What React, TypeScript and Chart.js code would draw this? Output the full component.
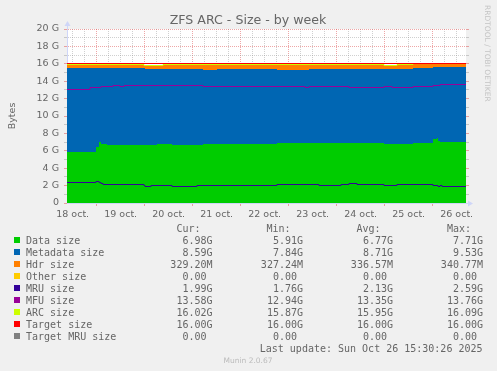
import React, { useEffect, useRef } from 'react';
import { Chart, registerables } from 'chart.js';

Chart.register(...registerables);

// ---- data (hours since 18 oct. 00:00) ----
const hours = [9.15, 20.5, 23.5, 25, 26, 27, 29, 32, 35.5, 37.5, 47.5, 48, 51, 54, 57, 61.5, 74, 77, 78, 84, 114, 128, 130, 135, 146, 150, 154, 167.5, 171.5, 174, 182, 192, 194, 194.5, 195.5, 196.5, 200, 208.65];

const dataSize = [5.91, 5.91, 5.91, 6.40, 7.00, 6.80, 6.76, 6.68, 6.68, 6.68, 6.68, 6.68, 6.68, 6.68, 6.76, 6.76, 6.72, 6.72, 6.76, 6.76, 6.78, 6.90, 6.90, 6.90, 6.90, 6.90, 6.90, 6.90, 6.79, 6.79, 6.79, 6.85, 7.30, 7.44, 7.10, 6.99, 6.99, 6.99];
const metadataSize = [9.53, 9.60, 9.60, 9.11, 8.51, 8.71, 8.75, 8.83, 8.83, 8.83, 8.83, 8.83, 8.72, 8.76, 8.68, 8.68, 8.72, 8.72, 8.53, 8.53, 8.66, 8.39, 8.39, 8.54, 8.54, 8.54, 8.54, 8.54, 8.65, 8.65, 8.65, 8.66, 8.28, 8.14, 8.48, 8.59, 8.59, 8.59];
const hdrSize = [0.48, 0.41, 0.41, 0.39, 0.39, 0.39, 0.39, 0.39, 0.39, 0.39, 0.39, 0.30, 0.41, 0.37, 0.37, 0.48, 0.48, 0.48, 0.63, 0.63, 0.48, 0.63, 0.63, 0.48, 0.48, 0.48, 0.48, 0.48, 0.34, 0.34, 0.48, 0.47, 0.45, 0.45, 0.45, 0.45, 0.45, 0.45];
const otherSize = [0, 0, 0, 0, 0, 0, 0, 0, 0, 0, 0, 0, 0, 0, 0, 0, 0, 0, 0, 0, 0, 0, 0, 0, 0, 0, 0, 0, 0, 0, 0, 0, 0, 0, 0, 0, 0, 0];
const mruSize = [2.41, 2.41, 2.41, 2.50, 2.30, 2.29, 2.18, 2.18, 2.18, 2.18, 2.18, 2.02, 1.95, 2.06, 2.06, 2.06, 1.95, 2.06, 2.06, 2.06, 2.06, 2.18, 2.18, 2.18, 2.06, 2.18, 2.29, 2.18, 2.06, 2.06, 2.18, 2.18, 2.05, 2.00, 1.95, 2.00, 1.95, 1.95];
const mfuSize = [13.06, 13.06, 13.24, 13.30, 13.30, 13.38, 13.40, 13.40, 13.50, 13.40, 13.52, 13.52, 13.52, 13.52, 13.52, 13.52, 13.52, 13.52, 13.40, 13.40, 13.40, 13.40, 13.28, 13.40, 13.40, 13.40, 13.28, 13.28, 13.35, 13.28, 13.28, 13.40, 13.50, 13.50, 13.55, 13.63, 13.63, 13.63];
const arcSize = [15.92, 15.92, 15.92, 15.90, 15.90, 15.90, 15.90, 15.90, 15.90, 15.90, 15.90, 15.81, 15.81, 15.81, 15.81, 15.92, 15.92, 15.92, 15.92, 15.92, 15.92, 15.92, 15.92, 15.92, 15.92, 15.92, 15.92, 15.92, 15.78, 15.78, 15.92, 15.98, 16.03, 16.03, 16.03, 16.03, 16.03, 16.03];
const constHours = [9.15, 208.65];
const targetSize = [16.0, 16.0];
const targetMruSize = [0, 0];

const dayLabels = ['18 oct.', '19 oct.', '20 oct.', '21 oct.', '22 oct.', '23 oct.', '24 oct.', '25 oct.', '26 oct.'];
const yLabels = ['0', '2 G', '4 G', '6 G', '8 G', '10 G', '12 G', '14 G', '16 G', '18 G', '20 G'];

const seriesNames = ['Data size', 'Metadata size', 'Hdr size', 'Other size', 'MRU size', 'MFU size', 'ARC size', 'Target size', 'Target MRU size'];
const seriesColors = ['#00CC00', '#0066B3', '#FF8000', '#FFCC00', '#330099', '#990099', '#CCFF00', '#FF0000', '#808080'];
const curVals = ['6.98G', '8.59G', '329.20M', '0.00', '1.99G', '13.58G', '16.02G', '16.00G', '0.00'];
const minVals = ['5.91G', '7.84G', '327.24M', '0.00', '1.76G', '12.94G', '15.87G', '16.00G', '0.00'];
const avgVals = ['6.77G', '8.71G', '336.57M', '0.00', '2.13G', '13.35G', '15.95G', '16.00G', '0.00'];
const maxVals = ['7.71G', '9.53G', '340.77M', '0.00', '2.59G', '13.76G', '16.09G', '16.00G', '0.00'];
const headers = ['Cur:', 'Min:', 'Avg:', 'Max:'];
const lastUpdate = 'Last update: Sun Oct 26 15:30:26 2025';
const titleText = 'ZFS ARC - Size - by week';
const yTitle = 'Bytes';
const watermark = 'RRDTOOL / TOBI OETIKER';
const version = 'Munin 2.0.67';

// ---- styles ----
const TEXT = '#666666';
const MINOR = 'rgba(143,143,143,0.42)';
const MAJOR = 'rgba(222,79,79,0.5)';
const AXIS = '#CFD6F8';
const SANS = '"DejaVu Sans", sans-serif';
const MONO = '"DejaVu Sans Mono", monospace';

const pts = (xs: number[], ys: number[]) => xs.map((x, i) => ({ x, y: ys[i] }));

// snap the scale-computed point positions to the pixel grid (as rrdtool does)
const snap = {
  id: 'snap',
  afterDatasetsUpdate(chart: any) {
    chart.data.datasets.forEach((ds: any, i: number) => {
      const meta = chart.getDatasetMeta(i);
      const isLine = ds.borderWidth > 0;
      meta.data.forEach((el: any) => {
        el.x = Math.round(el.x);
        el.y = isLine ? Math.floor(el.y) + 0.5 : Math.round(el.y);
      });
    });
  },
};

const extras = {
  id: 'extras',
  beforeDraw(chart: any) {
    const { ctx, chartArea: a } = chart;
    ctx.save();
    ctx.fillStyle = '#F0F0F0';
    ctx.fillRect(0, 0, chart.width, chart.height);
    ctx.fillStyle = '#FFFFFF';
    ctx.fillRect(a.left, a.top, a.right - a.left, a.bottom - a.top);
    ctx.restore();
  },
  afterDraw(chart: any) {
    const { ctx, chartArea: a } = chart;
    ctx.save();
    // axis extensions + arrows
    ctx.strokeStyle = AXIS;
    ctx.fillStyle = AXIS;
    ctx.lineWidth = 1;
    ctx.beginPath();
    ctx.moveTo(a.left + 0.5, a.top);
    ctx.lineTo(a.left + 0.5, a.top - 4);
    ctx.moveTo(a.right, a.bottom + 0.5);
    ctx.lineTo(a.right + 3, a.bottom + 0.5);
    ctx.stroke();
    ctx.beginPath();
    ctx.moveTo(a.left + 0.5, a.top - 8);
    ctx.lineTo(a.left - 2.5, a.top - 3);
    ctx.lineTo(a.left + 3.5, a.top - 3);
    ctx.closePath();
    ctx.fill();
    ctx.beginPath();
    ctx.moveTo(a.right + 7, a.bottom + 0.5);
    ctx.lineTo(a.right + 2, a.bottom - 2.5);
    ctx.lineTo(a.right + 2, a.bottom + 3.5);
    ctx.closePath();
    ctx.fill();

    // title
    ctx.fillStyle = TEXT;
    ctx.font = `12.6px ${SANS}`;
    ctx.textAlign = 'center';
    ctx.textBaseline = 'alphabetic';
    ctx.fillText(titleText, 248, 24);

    // y title
    ctx.save();
    ctx.font = `9.5px ${SANS}`;
    ctx.translate(15, (a.top + a.bottom) / 2);
    ctx.rotate(-Math.PI / 2);
    ctx.textAlign = 'center';
    ctx.fillText(yTitle, 0, 0);
    ctx.restore();

    // watermark
    ctx.save();
    ctx.fillStyle = '#C4C4C4';
    ctx.font = `7.5px ${SANS}`;
    ctx.translate(485, 5);
    ctx.rotate(Math.PI / 2);
    ctx.textAlign = 'left';
    ctx.fillText(watermark, 0, 0);
    ctx.restore();

    // legend table
    ctx.font = `10px ${MONO}`;
    ctx.fillStyle = TEXT;
    ctx.textAlign = 'left';
    const headerX = [176.5, 266.5, 356.5, 447];
    headers.forEach((h, i) => ctx.fillText(h, headerX[i], 231.5));
    const colRight = [212.5, 303, 393, 483];
    const cols = [curVals, minVals, avgVals, maxVals];
    seriesNames.forEach((name, i) => {
      const y = 243.5 + 12 * i;
      ctx.fillStyle = seriesColors[i];
      ctx.fillRect(14, y - 6.5, 6, 6);
      ctx.fillStyle = TEXT;
      ctx.textAlign = 'left';
      ctx.fillText(name, 26, y);
      ctx.textAlign = 'right';
      cols.forEach((arr, c) => {
        const s = arr[i];
        ctx.fillText(/[A-Za-z]$/.test(s) ? s : s + ' ', colRight[c], y);
      });
    });
    ctx.textAlign = 'right';
    ctx.fillText(lastUpdate, 482.5, 351.5);

    // version
    ctx.fillStyle = '#BBBBBB';
    ctx.font = `7.5px ${SANS}`;
    ctx.textAlign = 'center';
    ctx.fillText(version, 248, 362.5);
    ctx.restore();
  },
};

const xTicks: number[] = [];
for (let h = 12; h <= 204; h += 6) xTicks.push(h);

const area = (label: string, ys: number[], color: string, fill: any) => ({
  label, data: pts(hours, ys), stack: 'areas', fill,
  backgroundColor: color, borderColor: color, borderWidth: 0, pointRadius: 0, stepped: 'after', order: 10,
});

const line = (label: string, xs: number[], ys: number[], color: string, order: number) => ({
  label, data: pts(xs, ys), stack: label, fill: false,
  borderColor: color, backgroundColor: color, borderWidth: 1, pointRadius: 0, stepped: 'after', order,
});

export default function App() {
  const ref = useRef<HTMLCanvasElement>(null);
  useEffect(() => {
    const canvas = ref.current!;
    const chart = new Chart(canvas, {
      type: 'line',
      data: {
        datasets: [
          area('Data size', dataSize, seriesColors[0], 'origin'),
          area('Metadata size', metadataSize, seriesColors[1], '-1'),
          area('Hdr size', hdrSize, seriesColors[2], '-1'),
          area('Other size', otherSize, seriesColors[3], '-1'),
          line('MRU size', hours, mruSize, seriesColors[4], 5),
          line('MFU size', hours, mfuSize, seriesColors[5], 4),
          line('ARC size', hours, arcSize, seriesColors[6], 3),
          line('Target size', constHours, targetSize, seriesColors[7], 2),
          line('Target MRU size', constHours, targetMruSize, seriesColors[8], 1),
        ] as any,
      },
      options: {
        responsive: false, animation: false, events: [],
        layout: { padding: { left: 0, top: 29, right: 28, bottom: 148 } },
        plugins: { legend: { display: false }, tooltip: { enabled: false }, title: { display: false } },
        scales: {
          x: {
            type: 'linear', min: 9.15, max: 208.65, z: 1,
            afterBuildTicks: (s: any) => { s.ticks = xTicks.map((v) => ({ value: v })); },
            afterFit: (s: any) => { s.height = 20; s.paddingLeft = 0; s.paddingRight = 0; },
            ticks: {
              autoSkip: false, maxRotation: 0, minRotation: 0, padding: 3, color: TEXT,
              font: { family: SANS, size: 9.5 },
              callback: (v: any) => ((v - 12) % 24 === 0 ? dayLabels[(v - 12) / 24] : ''),
            },
            grid: {
              lineWidth: 1, tickLength: 3,
              color: (c: any) => (c.tick && c.tick.value % 24 === 0 ? MAJOR : MINOR),
              tickColor: (c: any) => (c.tick && c.tick.value % 24 === 0 ? MAJOR : 'rgba(0,0,0,0)'),
            },
            border: { display: true, color: AXIS, dash: [1, 1] },
          },
          y: {
            type: 'linear', position: 'left', stacked: true, min: 0, max: 20, z: 1,
            afterFit: (s: any) => { s.width = 67; s.paddingTop = 0; s.paddingBottom = 0; },
            ticks: {
              stepSize: 1, autoSkip: false, padding: 5, color: TEXT,
              font: { family: SANS, size: 9.5 },
              callback: (v: any) => (v % 2 === 0 ? yLabels[v / 2] : ''),
            },
            grid: {
              lineWidth: 1, tickLength: 3,
              color: (c: any) => (c.tick && c.tick.value % 2 === 0 ? MAJOR : MINOR),
              tickColor: (c: any) => (c.tick && c.tick.value % 2 === 0 ? MAJOR : MINOR),
            },
            border: { display: true, color: AXIS, dash: [1, 1] },
          },
          y2: {
            type: 'linear', position: 'right', min: 0, max: 20, z: 1,
            afterFit: (s: any) => { s.width = 3; s.paddingTop = 0; s.paddingBottom = 0; },
            ticks: { stepSize: 1, display: false },
            grid: {
              drawOnChartArea: false, tickLength: 3,
              tickColor: (c: any) => (c.tick && c.tick.value % 2 === 0 ? MAJOR : MINOR),
            },
            border: { display: false },
          },
        },
      } as any,
      plugins: [snap, extras],
    });
    return () => chart.destroy();
  }, []);
  return (
    <div style={{ position: 'absolute', left: 0, top: 0, width: 497, height: 371 }}>
      <canvas ref={ref} width={497} height={371} style={{ display: 'block', width: 497, height: 371 }} />
    </div>
  );
}
